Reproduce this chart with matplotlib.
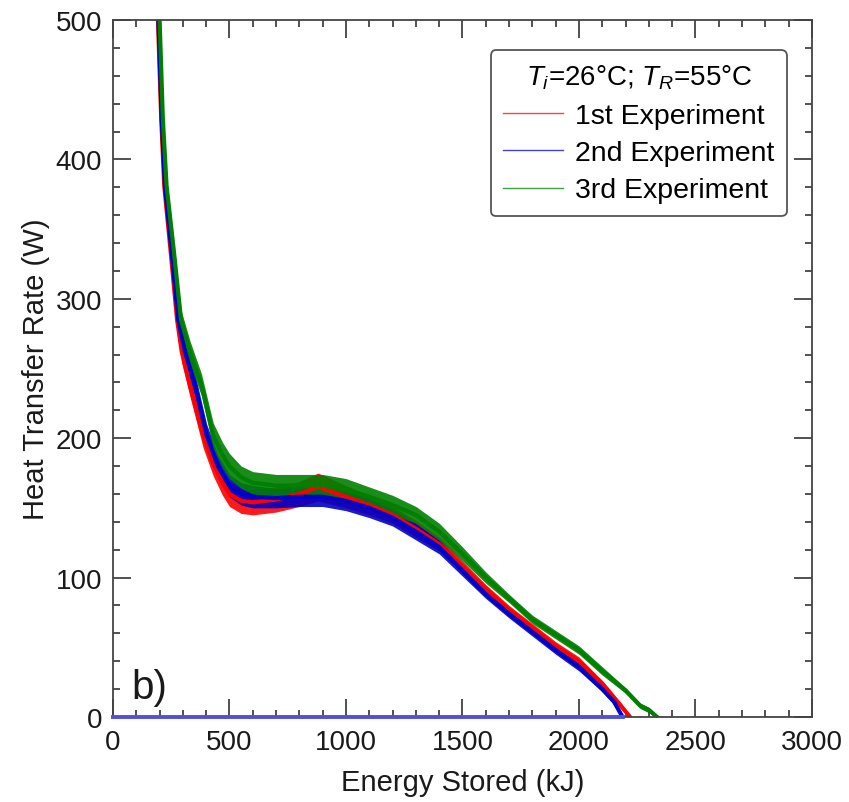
import numpy as np
import matplotlib
matplotlib.use('Agg')
import matplotlib.pyplot as plt
from matplotlib.ticker import MultipleLocator

plt.rcParams['font.family'] = ['Liberation Sans', 'DejaVu Sans']
plt.rcParams['mathtext.fontset'] = 'custom'
plt.rcParams['mathtext.rm'] = 'Liberation Sans'
plt.rcParams['mathtext.it'] = 'Liberation Sans:italic'

# 1st experiment (red)
e_red = [188, 193, 207, 220, 248, 275, 295, 330, 387, 430, 470, 500, 550, 600, 700, 800, 880,
         1000, 1100, 1200, 1300, 1400, 1500, 1600, 1700, 1800, 1900, 2000, 2100, 2180, 2219]
p_red = [520, 500, 429, 381, 333, 285, 262, 238, 202, 182, 168, 160, 155, 154, 156, 160, 165,
         158, 152, 145, 135, 124, 108, 92, 77, 64, 51, 40, 24, 8, 0]
n_red = [6, 6, 6, 6, 7, 7, 8, 8, 9, 9, 9, 9, 9, 9, 9, 9, 10,
         8, 7, 6, 6, 5, 4, 3, 3, 3, 3, 3, 2, 2, 1]

# 2nd experiment (blue)
e_blue = [190, 195, 209, 223, 252, 280, 309, 352, 402, 450, 500, 550, 600, 700, 800, 900,
          1000, 1100, 1200, 1300, 1400, 1500, 1600, 1700, 1800, 1900, 2000, 2100, 2150, 2187]
p_blue = [520, 500, 429, 381, 333, 285, 262, 238, 202, 180, 166, 160, 158, 157, 158, 158,
          155, 150, 143, 133, 122, 105, 88, 74, 61, 48, 36, 20, 11, 0]
n_blue = [6, 6, 6, 6, 7, 7, 8, 8, 8, 8, 8, 8, 8, 7, 7, 7,
          7, 7, 6, 6, 5, 4, 3, 3, 3, 3, 3, 2, 2, 1]

# 3rd experiment (green)
e_green = [195, 200, 214, 230, 262, 292, 330, 380, 430, 470, 500, 550, 600, 700, 800, 900,
           1000, 1100, 1200, 1300, 1400, 1500, 1600, 1700, 1800, 1900, 2000, 2100, 2200, 2263,
           2300, 2335]
p_green = [520, 500, 429, 381, 333, 285, 262, 238, 202, 188, 180, 172, 168, 166, 166, 166,
           163, 158, 152, 145, 133, 117, 100, 85, 70, 59, 48, 33, 19, 8, 5, 0]
n_green = [6, 6, 6, 6, 7, 7, 8, 8, 9, 9, 9, 8, 8, 8, 8, 8,
           8, 7, 7, 6, 6, 5, 4, 3, 3, 3, 3, 3, 2, 2, 2, 1]

# blue trace sitting on zero before charging
e_zero = [0, 2187]
p_zero = [0, 0]

series = [
    ('1st Experiment', e_red, p_red, n_red, '#ff0000'),
    ('2nd Experiment', e_blue, p_blue, n_blue, '#0000c8'),
    ('3rd Experiment', e_green, p_green, n_green, '#008000'),
]

fig = plt.figure(figsize=(8.49, 8.03), dpi=100)
ax = fig.add_axes([0.1331, 0.1059, 0.8233, 0.8679])

for label, e, p, n, c in series:
    e = np.array(e, float)
    p = np.array(p, float)
    n = np.array(n, float)
    ax.fill_between(e, p - n, p + n, color=c, lw=0, alpha=0.9)
    ax.plot(e, p, color=c, lw=3)
    ax.plot([], [], color=c, lw=1, alpha=0.75, label=label)

ax.plot(e_zero, p_zero, color='#5050d8', lw=2.8, clip_on=False, zorder=5)

ax.set_xlim(0, 3000)
ax.set_ylim(0, 500)
ax.xaxis.set_major_locator(MultipleLocator(500))
ax.xaxis.set_minor_locator(MultipleLocator(100))
ax.yaxis.set_major_locator(MultipleLocator(100))
ax.yaxis.set_minor_locator(MultipleLocator(20))
ax.tick_params(which='both', direction='in', top=True, right=True,
               color='#333333', width=1.2, labelsize=20, labelcolor='#1a1a1a')
ax.tick_params(which='major', length=13)
ax.tick_params(which='minor', length=5)
ax.tick_params(axis='x', pad=9)
ax.tick_params(axis='y', pad=8)
for s in ax.spines.values():
    s.set_linewidth(1.3)
    s.set_color('#444444')

ax.set_xlabel('Energy Stored (kJ)', fontsize=21, color='#1a1a1a', labelpad=9)
ax.set_ylabel('Heat Transfer Rate (W)', fontsize=21, color='#1a1a1a', labelpad=4)

ax.text(0.027, 0.027, 'b)', fontsize=29, transform=ax.transAxes, va='baseline', color='#1a1a1a')

leg = ax.legend(loc='upper right', bbox_to_anchor=(0.964, 0.957), borderaxespad=0,
                title=r'$T_i$=26°C; $T_R$=55°C', fontsize=20.5, title_fontsize=20,
                handlelength=2.1, handletextpad=0.4, labelspacing=0.4,
                fancybox=True, framealpha=1, edgecolor='#555555', borderpad=0.45)
leg.get_frame().set_linewidth(1.3)

fig.savefig('out.png', dpi=100)
